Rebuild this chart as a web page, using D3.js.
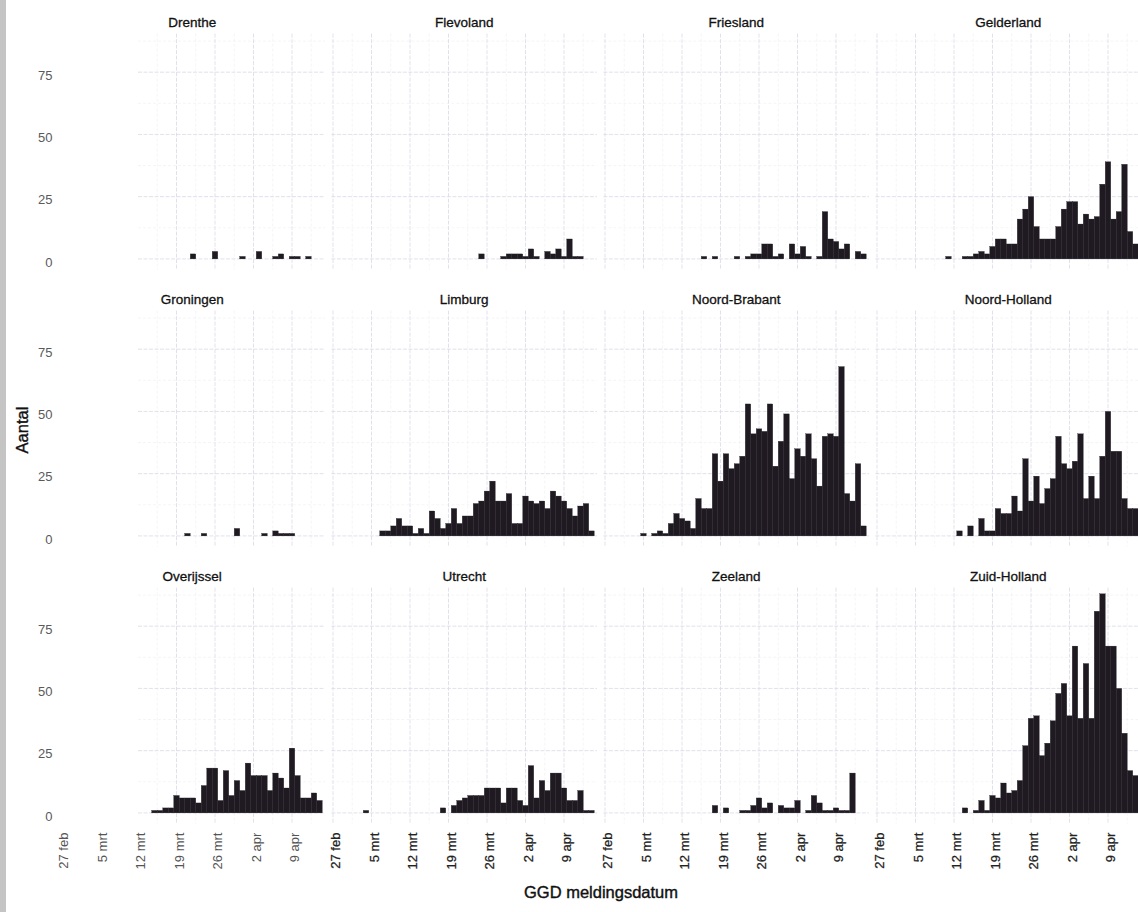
<!DOCTYPE html>
<html>
<head>
<meta charset="utf-8">
<script src="https://cdn.jsdelivr.net/npm/d3@7"></script>
<style>
  body { margin: 0; background: #fff; }
  svg text { font-family: "Liberation Sans", Arial, sans-serif; }
</style>
</head>
<body>
<svg id="chart" width="1138" height="912"></svg>
<script>
// facets, in reading order
const provinces = ["Drenthe", "Flevoland", "Friesland", "Gelderland",
    "Groningen", "Limburg", "Noord-Brabant", "Noord-Holland",
    "Overijssel", "Utrecht", "Zeeland", "Zuid-Holland"]

// x axis ticks
const tickDates = ["2020-02-27", "2020-03-05", "2020-03-12", "2020-03-19", "2020-03-26", "2020-04-02", "2020-04-09"]
const tickLabels = ["27 feb", "5 mrt", "12 mrt", "19 mrt", "26 mrt", "2 apr", "9 apr"]
const yTicks = [0, 25, 50, 75]
const yMinor = [12.5, 37.5, 62.5, 87.5]

// daily counts, index 0 = 27 feb
const drenthe = [0,0,0,0,0,0,0,0,0,0, 0,0,0,0,0,0,0,0,0,0, 0,0,0,0,2,0,0,0,3,0, 0,0,0,1,0,0,3,0,0,1, 2,0,1,1,0,1,0,0]
const flevoland = [0,0,0,0,0,0,0,0,0,0, 0,0,0,0,0,0,0,0,0,0, 0,0,0,0,0,0,0,2,0,0, 0,1,2,2,2,1,4,1,0,3, 2,4,1,8,1,1,0,0]
const friesland = [0,0,0,0,0,0,0,0,0,0, 0,0,0,0,0,0,0,0,1,0, 1,0,0,0,1,0,1,2,2,6, 6,1,2,0,6,2,5,1,0,1, 19,8,7,4,6,0,3,2]
const gelderland = [0,0,0,0,0,0,0,0,0,0, 0,0,0,1,0,0,1,1,2,3, 2,5,8,8,6,6,16,20,25,13, 8,8,8,13,20,23,23,14,18,16, 17,30,39,16,19,38,11,6]
const groningen = [0,0,0,0,0,0,0,0,0,0, 0,0,0,0,0,0,0,0,0,0, 0,0,0,1,0,0,1,0,0,0, 0,0,3,0,0,0,0,1,0,2, 1,1,1,0,0,0,0,0]
const limburg = [0,0,0,0,0,0,0,0,0,2, 2,4,7,4,4,1,3,1,10,7, 3,5,11,5,8,8,13,14,18,22, 14,14,17,5,5,16,14,13,14,11, 18,16,14,11,8,12,13,2]
const noordBrabant = [0,0,0,0,0,0,0,1,0,1, 2,1,5,9,7,6,3,15,11,11, 33,22,33,27,29,32,53,41,43,42, 53,28,38,49,23,35,32,41,31,20, 40,41,40,68,17,14,29,4]
const noordHolland = [0,0,0,0,0,0,0,0,0,0, 0,0,0,0,0,2,0,4,0,7, 2,2,11,9,9,16,10,31,14,24, 13,19,23,40,29,27,30,41,15,24, 15,32,50,34,34,15,11,11]
const overijssel = [0,0,0,0,0,0,0,0,0,0, 0,0,0,0,0,0,0,1,1,2, 2,7,6,6,6,4,11,18,18,5, 17,7,13,9,20,15,15,15,9,16, 14,10,26,15,6,6,8,5]
const utrecht = [0,0,0,0,0,0,1,0,0,0, 0,0,0,0,0,0,0,0,0,0, 2,0,3,5,6,7,7,7,10,10, 10,4,10,10,5,3,19,6,13,9, 16,16,10,5,5,9,1,1]
const zeeland = [0,0,0,0,0,0,0,0,0,0, 0,0,0,0,0,0,0,0,0,0, 3,0,2,0,0,1,1,3,6,2, 4,0,3,2,2,5,0,1,7,4, 1,1,2,1,1,16,0,0]
const zuidHolland = [0,0,0,0,0,0,0,0,0,0, 0,0,0,0,0,0,2,0,1,5, 1,7,6,12,8,9,13,27,38,39, 23,28,37,48,52,39,67,38,60,38, 81,88,67,67,50,32,17,15]

const counts = [drenthe, flevoland, friesland, gelderland,
    groningen, limburg, noordBrabant, noordHolland,
    overijssel, utrecht, zeeland, zuidHolland]

const svg = d3.select("#chart")

const colLeft = 59.4
const colStep = 272
const panelW = 265.6
const rowTop = 33.6
const rowStep = 277
const panelH = 236
const barColor = "#1f1a21"
const gridMajor = "#d9d9e8"
const gridMinor = "#eeeef4"

const start = new Date(Date.UTC(2020, 1, 27))
const parse = d3.utcParse("%Y-%m-%d")
const ticks = tickDates.map(parse)
const minorTicks = ticks.map(d => d3.utcHour.offset(d, 84))

const xScale = d3.scaleUtc()
    .domain([d3.utcHour.offset(start, -7), d3.utcDay.offset(start, 48)])
    .range([0, panelW])
const yScale = d3.scaleLinear()
    .domain([-4.3, 90.5])
    .range([panelH, 0])

// scan edge on the left
svg.append("rect")
    .attr("x", 0).attr("y", 0)
    .attr("width", 6).attr("height", 912)
    .attr("fill", "#c4c4c4")

provinces.forEach((name, index) => {
    const col = index % 4
    const row = Math.floor(index / 4)
    const g = svg.append("g")
        .attr("transform", `translate(${colLeft + col * colStep},${rowTop + row * rowStep})`)

    // in the first column the scan lost the grid left of 12 mrt
    const gridStart = col === 0 ? xScale(ticks[2]) : 0

    g.selectAll(".minor-h")
        .data(yMinor)
        .enter()
        .append("line")
        .attr("x1", gridStart).attr("x2", panelW)
        .attr("y1", d => yScale(d)).attr("y2", d => yScale(d))
        .attr("stroke", gridMinor).attr("stroke-width", 0.6)
        .attr("stroke-dasharray", "3,2")
    g.selectAll(".minor-v")
        .data(minorTicks.filter(d => xScale(d) < panelW && xScale(d) > gridStart))
        .enter()
        .append("line")
        .attr("x1", d => xScale(d)).attr("x2", d => xScale(d))
        .attr("y1", 0).attr("y2", panelH)
        .attr("stroke", gridMinor).attr("stroke-width", 0.6)
        .attr("stroke-dasharray", "3,2")
    g.selectAll(".major-h")
        .data(yTicks)
        .enter()
        .append("line")
        .attr("x1", gridStart).attr("x2", panelW)
        .attr("y1", d => yScale(d)).attr("y2", d => yScale(d))
        .attr("stroke", gridMajor).attr("stroke-width", 0.8)
        .attr("stroke-dasharray", "4,1.5")
    g.selectAll(".major-v")
        .data(ticks.filter(d => xScale(d) > gridStart))
        .enter()
        .append("line")
        .attr("x1", d => xScale(d)).attr("x2", d => xScale(d))
        .attr("y1", 0).attr("y2", panelH)
        .attr("stroke", gridMajor).attr("stroke-width", 0.8)
        .attr("stroke-dasharray", "4,1.5")

    // bars
    const data = counts[index]
        .map((v, i) => ({ date: d3.utcDay.offset(start, i), value: v }))
        .filter(d => d.value > 0)
    g.selectAll(".bar")
        .data(data)
        .enter()
        .append("rect")
        .attr("x", d => xScale(d3.utcHour.offset(d.date, -12)))
        .attr("width", d => xScale(d3.utcHour.offset(d.date, 12)) - xScale(d3.utcHour.offset(d.date, -12)))
        .attr("y", d => yScale(d.value))
        .attr("height", d => yScale(0) - yScale(d.value))
        .attr("fill", barColor)
        .attr("stroke", barColor)
        .attr("stroke-width", 0.3)

    // strip title
    g.append("text")
        .attr("x", panelW / 2)
        .attr("y", -7)
        .attr("text-anchor", "middle")
        .attr("font-size", "13.5px")
        .attr("fill", "#111")
        .attr("stroke", "#111")
        .attr("stroke-width", 0.3)
        .text(name)

    if (col === 0) {
        const ax = g.append("g")
            .call(d3.axisLeft(yScale).tickValues(yTicks).tickSize(0).tickPadding(7))
        ax.select(".domain").remove()
        ax.selectAll("text")
            .attr("font-size", "13px")
            .attr("font-family", "Liberation Sans, Arial, sans-serif")
            .attr("fill", "#5a5a5a")
            .attr("dy", "0.55em")
    }

    if (row === 2) {
        const ax = g.append("g")
            .attr("transform", `translate(0,${panelH})`)
            .call(d3.axisBottom(xScale).tickValues(ticks).tickSize(0)
                .tickFormat((d, i) => tickLabels[i]))
        ax.select(".domain").remove()
        ax.selectAll("text")
            .attr("transform", "rotate(-90)")
            .attr("x", -9)
            .attr("y", 0)
            .attr("dy", "0.5em")
            .attr("text-anchor", "end")
            .attr("font-size", "13px")
            .attr("font-family", "Liberation Sans, Arial, sans-serif")
            .attr("fill", col === 0 ? "#555" : "#222")
            .attr("stroke", col === 0 ? "none" : "#222")
            .attr("stroke-width", 0.25)
    }
})

// axis titles
svg.append("text")
    .attr("x", 601)
    .attr("y", 898)
    .attr("text-anchor", "middle")
    .attr("font-size", "16.5px")
    .attr("fill", "#111")
    .attr("stroke", "#111")
    .attr("stroke-width", 0.4)
    .text("GGD meldingsdatum")

svg.append("text")
    .attr("transform", "translate(28,430) rotate(-90)")
    .attr("text-anchor", "middle")
    .attr("font-size", "16.5px")
    .attr("fill", "#111")
    .attr("stroke", "#111")
    .attr("stroke-width", 0.4)
    .text("Aantal")
</script>
</body>
</html>
